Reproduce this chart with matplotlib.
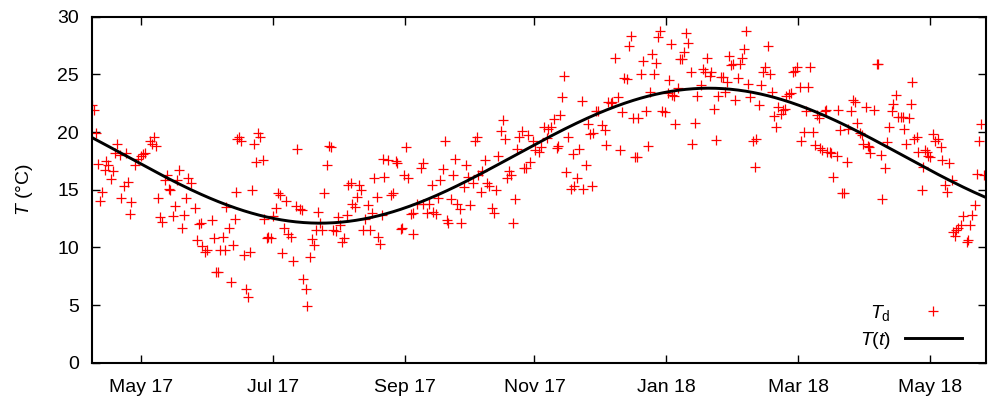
import numpy as np
import pandas as pd
import matplotlib
matplotlib.use("Agg")
import matplotlib.pyplot as plt

# ---------------- data ----------------
START_DATE = "2017-04-20"
X_SPAN_DAYS = 413.9

DAYS = [0.0, 1.1, 2.1, 3.1, 3.7, 4.8, 6.0, 6.8, 7.5, 8.8, 9.9, 10.6, 11.9, 13.0, 13.7, 15.0, 15.7, 16.8, 17.6, 18.3,
        19.9, 21.4, 22.7, 23.8, 24.8, 26.9, 27.9, 28.8, 29.9, 30.7, 31.5, 32.5, 34.1, 34.7, 35.6, 36.3, 37.6, 38.4, 39.6, 40.3,
        41.8, 42.7, 43.7, 44.6, 46.1, 47.7, 48.6, 49.7, 50.7, 51.1, 52.3, 53.5, 55.7, 56.6, 57.4, 58.5, 59.3, 60.8, 61.6, 62.3,
        63.4, 64.4, 65.4, 66.2, 66.9, 67.4, 68.2, 69.1, 70.6, 71.3, 72.2, 73.3, 74.1, 75.3, 75.9, 77.1, 77.9, 79.4, 79.9, 81.0,
        81.8, 83.0, 84.1, 85.2, 86.1, 87.2, 88.2, 89.2, 90.0, 90.7, 92.3, 93.3, 94.4, 94.9, 96.4, 97.5, 98.0, 99.1, 99.5, 101.1,
        101.9, 103.1, 103.7, 104.9, 105.7, 106.8, 107.7, 108.8, 109.9, 110.8, 111.9, 113.0, 113.9, 115.0, 115.7, 116.9, 118.1, 118.5, 120.0, 120.6,
        121.9, 122.7, 123.8, 124.7, 125.5, 126.5, 127.8, 128.8, 129.6, 130.8, 131.9, 132.4, 133.5, 134.3, 135.0, 135.5, 137.3, 138.4, 139.4, 140.9,
        141.2, 143.1, 143.5, 144.6, 145.5, 146.6, 147.7, 148.6, 148.9, 150.5, 152.3, 153.2, 153.6, 155.1, 156.3, 157.4, 158.1, 159.4, 160.5, 161.3,
        162.5, 163.6, 164.4, 165.1, 166.2, 167.4, 168.2, 169.0, 170.5, 170.8, 172.4, 173.3, 174.4, 175.1, 176.4, 177.5, 178.2, 179.0, 180.1, 180.6,
        182.1, 183.1, 184.1, 185.2, 186.3, 187.2, 188.2, 189.4, 190.3, 191.3, 192.1, 193.3, 194.0, 194.9, 196.0, 196.8, 198.0, 199.1, 200.1, 201.1,
        202.1, 202.9, 204.4, 205.2, 207.1, 208.0, 209.5, 210.6, 211.1, 212.6, 214.2, 215.3, 216.0, 216.8, 217.6, 218.8, 219.4, 220.6, 221.9, 223.0,
        223.4, 224.5, 225.6, 226.9, 227.6, 228.7, 229.6, 230.7, 231.5, 232.2, 233.3, 234.5, 236.4, 237.6, 238.0, 239.2, 240.4, 241.0, 242.3, 243.5,
        244.6, 245.6, 246.6, 247.7, 248.8, 249.7, 250.7, 251.5, 252.3, 253.1, 254.3, 255.4, 256.5, 257.4, 258.5, 259.3, 260.5, 261.1, 262.0, 263.1,
        264.2, 265.4, 267.0, 267.3, 268.2, 268.5, 269.6, 270.2, 271.4, 272.2, 273.3, 274.2, 275.3, 276.1, 277.3, 277.9, 279.2, 280.4, 281.9, 283.0,
        284.1, 285.0, 286.1, 286.9, 288.1, 289.2, 290.0, 291.2, 292.3, 293.1, 294.3, 295.0, 296.1, 296.9, 297.7, 299.2, 300.0, 301.1, 302.0, 303.1,
        303.8, 304.6, 306.2, 306.9, 307.7, 308.8, 310.0, 310.8, 311.9, 313.1, 313.9, 315.0, 315.9, 317.0, 317.7, 319.0, 320.1, 320.8, 321.6, 322.7,
        323.6, 324.7, 325.7, 326.7, 327.8, 328.5, 329.8, 330.8, 331.6, 332.4, 333.9, 334.7, 335.9, 336.6, 337.0, 338.1, 339.4, 340.1, 340.5, 341.8,
        342.3, 343.3, 344.9, 345.6, 346.4, 347.5, 348.4, 349.5, 350.0, 351.5, 352.6, 353.4, 354.2, 355.7, 356.5, 357.0, 358.3, 359.3, 359.9, 360.3,
        362.3, 363.4, 364.2, 365.4, 366.0, 367.3, 368.1, 369.1, 370.4, 371.1, 372.2, 373.4, 374.7, 375.7, 376.2, 376.9, 378.4, 379.3, 379.9, 380.8,
        381.9, 382.7, 384.3, 385.0, 385.8, 386.6, 387.3, 388.1, 389.6, 390.4, 391.7, 393.2, 393.5, 395.1, 395.8, 396.9, 398.1, 398.9, 399.7, 400.0,
        401.2, 402.5, 403.5, 405.1, 405.8, 406.6, 407.7, 408.9, 409.7, 410.8, 411.7, 413.3]

TEMPS = [22.3, 21.9, 19.9, 17.2, 14.0, 14.8, 16.7, 17.5, 17.1, 15.9, 16.6, 18.2, 19.0, 18.0, 14.3, 15.3, 18.2, 15.7, 12.9, 13.9,
         17.1, 17.7, 17.9, 18.1, 18.2, 19.2, 19.0, 19.6, 18.8, 14.3, 12.6, 12.2, 15.8, 16.3, 15.1, 15.0, 12.7, 13.6, 15.8, 16.7,
         11.7, 12.8, 14.3, 16.0, 15.6, 13.4, 10.6, 12.0, 12.1, 10.1, 9.6, 9.8, 12.4, 10.8, 7.9, 7.9, 9.8, 10.9, 9.8, 13.5,
         11.7, 7.0, 10.2, 12.5, 14.8, 19.4, 19.6, 19.2, 9.3, 6.4, 5.7, 9.6, 15.0, 19.0, 17.4, 19.9, 19.6, 17.6, 12.5, 10.8,
         10.9, 10.8, 12.7, 13.4, 14.7, 14.5, 9.5, 11.7, 14.0, 11.2, 10.9, 8.8, 13.6, 18.5, 13.3, 13.2, 7.3, 6.4, 4.9, 9.2,
         10.7, 10.2, 11.5, 13.1, 12.1, 11.5, 14.7, 17.1, 18.8, 18.7, 11.5, 11.4, 12.6, 11.9, 10.5, 10.8, 12.8, 15.4, 15.6, 13.8,
         13.5, 14.4, 15.4, 15.0, 11.5, 12.5, 13.7, 11.5, 13.0, 16.0, 14.4, 10.9, 10.3, 12.8, 17.7, 16.1, 17.6, 14.5, 14.7, 17.5,
         17.3, 11.6, 11.7, 16.3, 18.7, 16.0, 12.9, 11.2, 13.0, 13.8, 16.9, 17.3, 13.8, 13.0, 13.8, 15.4, 13.1, 12.9, 14.3, 15.8,
         16.8, 19.2, 12.4, 12.1, 14.2, 16.3, 17.7, 13.8, 13.3, 12.1, 15.2, 17.1, 16.1, 13.7, 15.6, 19.2, 19.6, 16.3, 14.8, 16.6,
         17.6, 15.6, 15.3, 13.4, 13.0, 15.0, 17.9, 20.1, 21.0, 19.4, 16.0, 16.6, 16.3, 12.1, 14.2, 18.5, 19.6, 20.1, 16.9, 16.9,
         19.7, 17.4, 19.2, 18.4, 18.3, 18.7, 20.4, 19.5, 20.3, 20.4, 21.1, 18.6, 18.8, 21.5, 23.0, 24.9, 16.5, 19.6, 15.1, 18.1,
         15.3, 16.0, 18.5, 22.7, 15.1, 17.1, 20.7, 19.8, 15.3, 19.9, 21.8, 21.8, 20.6, 20.2, 18.9, 22.6, 22.5, 22.6, 26.4, 23.0,
         18.4, 21.7, 24.7, 24.6, 27.5, 28.3, 21.2, 17.8, 17.8, 21.2, 25.0, 26.2, 21.8, 18.8, 23.5, 26.8, 25.0, 26.0, 28.2, 28.8,
         21.8, 21.7, 23.4, 24.5, 27.6, 23.2, 23.1, 20.7, 23.8, 26.3, 26.3, 26.9, 28.6, 27.7, 25.2, 19.0, 20.8, 23.1, 24.1, 25.5,
         25.2, 26.4, 24.9, 25.2, 22.0, 19.3, 23.1, 24.8, 24.8, 23.5, 24.3, 26.6, 25.8, 25.9, 22.8, 24.7, 25.9, 26.4, 27.2, 28.8,
         24.2, 23.0, 19.2, 17.0, 19.4, 22.3, 24.1, 25.2, 25.6, 27.5, 25.0, 23.5, 21.4, 20.4, 22.2, 21.6, 21.9, 22.0, 23.1, 23.3,
         23.4, 25.2, 25.3, 25.6, 23.9, 19.2, 20.0, 21.8, 23.9, 25.6, 20.0, 18.9, 21.5, 21.2, 18.6, 18.4, 21.8, 21.9, 18.3, 18.3,
         18.2, 16.1, 17.9, 21.9, 20.2, 14.7, 14.7, 17.4, 20.3, 21.8, 22.8, 22.6, 20.8, 19.9, 19.7, 19.0, 22.2, 18.8, 18.7, 18.2,
         21.9, 25.9, 25.9, 18.0, 14.2, 16.9, 19.1, 20.4, 21.8, 22.4, 23.2, 21.3, 21.3, 21.3, 20.3, 19.0, 21.2, 22.4, 24.3, 19.4,
         19.6, 18.3, 15.0, 17.0, 18.4, 18.3, 17.9, 17.8, 19.8, 19.2, 19.4, 18.7, 17.6, 15.4, 14.8, 17.3, 15.8, 11.3, 11.0, 11.5,
         11.7, 11.9, 12.7, 10.5, 10.6, 11.9, 12.8, 13.7, 16.4, 19.2, 20.7, 16.3]

# fitted annual cycle T(t) = mean - amp * cos(2*pi*(t - t_min)/period)
FIT_MEAN = 17.95
FIT_AMP = 5.85
FIT_TMIN_DAY = 105.7
FIT_PERIOD = 360.0

TICK_DATES = ["2017-05-13", "2017-07-13", "2017-09-12", "2017-11-11",
              "2018-01-11", "2018-03-13", "2018-05-13"]
TICK_LABELS = ["May 17", "Jul 17", "Sep 17", "Nov 17", "Jan 18", "Mar 18", "May 18"]
Y_TICKS = [0, 5, 10, 15, 20, 25, 30]

# ---------------- style ----------------
plt.rcParams['font.family'] = ['Liberation Sans', 'DejaVu Sans']
plt.rcParams['mathtext.fontset'] = 'custom'
plt.rcParams['mathtext.rm'] = 'Liberation Sans'
plt.rcParams['mathtext.it'] = 'Liberation Sans:italic'
plt.rcParams['mathtext.bf'] = 'Liberation Sans:bold'

FS = 14

fig = plt.figure(figsize=(9.89, 4.04), dpi=100)
ax = fig.add_axes([0.0927, 0.1022, 0.9040, 0.8565])

n = min(len(DAYS), len(TEMPS))
start = pd.Timestamp(START_DATE)
dates = start + pd.to_timedelta(np.array(DAYS[:n]), unit='D')

ax.plot(dates, TEMPS[:n], linestyle='none', marker='+', color='#ff0000',
        markersize=7.2, markeredgewidth=0.9, label=r'$T_\mathrm{d}$', zorder=2)

t = np.linspace(0, X_SPAN_DAYS, 600)
Tfit = FIT_MEAN - FIT_AMP * np.cos(2 * np.pi * (t - FIT_TMIN_DAY) / FIT_PERIOD)
ax.plot(start + pd.to_timedelta(t, unit='D'), Tfit, color='black', lw=2.1,
        label=r'$T(t)$', zorder=3)

ax.set_xlim(start, start + pd.Timedelta(days=X_SPAN_DAYS))
ax.set_ylim(0, 30)
ax.set_yticks(Y_TICKS)
ax.set_xticks(pd.to_datetime(TICK_DATES))
ax.set_xticklabels(TICK_LABELS)

ax.tick_params(axis='both', direction='in', top=True, right=True,
               length=6, width=1.0, labelsize=FS, colors='black')
ax.tick_params(axis='x', pad=11.5)
ax.tick_params(axis='y', pad=9)
for s in ax.spines.values():
    s.set_linewidth(1.5)

ax.set_ylabel(r'$T$ (°C)', fontsize=FS)
ax.yaxis.set_label_coords(-0.0635, 0.5)

ax.legend(loc='lower right', bbox_to_anchor=(0.9735, 0.035), frameon=False,
          markerfirst=False, fontsize=FS, handlelength=2.95, handletextpad=0.7,
          labelspacing=0.35, borderpad=0, borderaxespad=0)

fig.savefig("out.png", dpi=100)
